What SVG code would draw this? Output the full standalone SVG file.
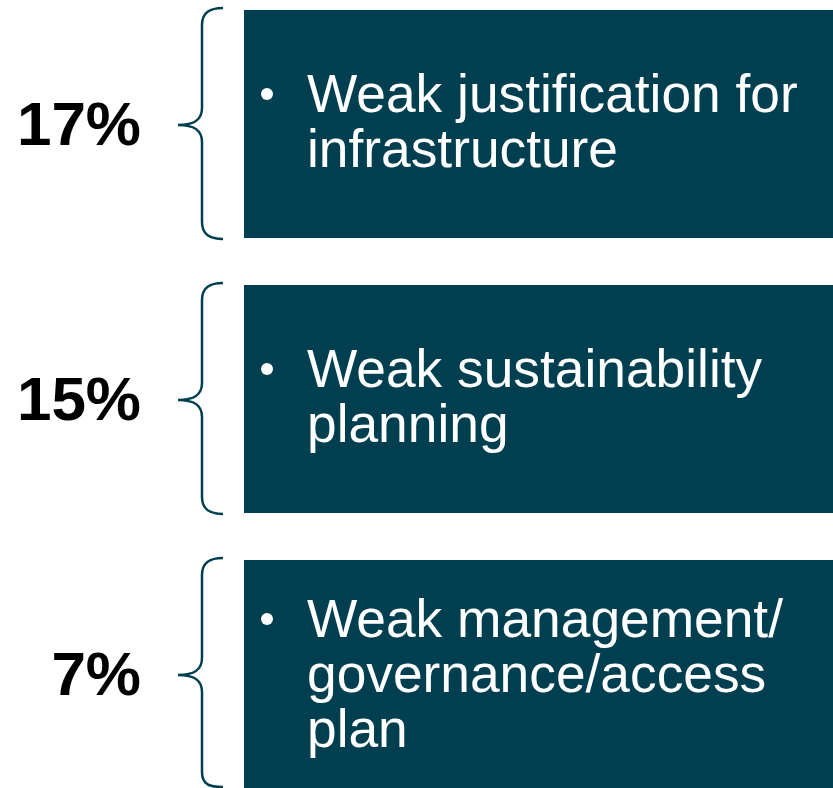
<svg xmlns="http://www.w3.org/2000/svg" width="833" height="788" viewBox="0 0 833 788">
<style>
.box{fill:#003F50}
.brace{fill:none;stroke:#003F50;stroke-width:2.5}
.pct{font-family:"Liberation Sans",Arial,sans-serif;font-weight:bold;font-size:62px;fill:#000;text-anchor:end}
.lbl{font-family:"Liberation Sans",Arial,sans-serif;font-size:53.3px;fill:#fff}
.dot{fill:#fff}
</style>
<rect width="833" height="788" fill="#fff"/>
<g id="connectors">
<path class="brace" d="M223,8 C210,8 202,12 202,25 L202,108 C202,120 194,125 178,125 C194,125 202,130 202,142 L202,222 C202,235 210,239 223,239"/>
<path class="brace" d="M223,283 C210,283 202,287 202,300 L202,383 C202,395 194,400 178,400 C194,400 202,405 202,417 L202,497 C202,510 210,514 223,514"/>
<path class="brace" d="M223,558 C210,558 202,562 202,575 L202,658 C202,670 194,675 178,675 C194,675 202,680 202,692 L202,772 C202,785 210,787 223,787"/>
</g>
<g id="pct1"><text class="pct" x="141" y="145">17%</text></g>
<g id="pct2"><text class="pct" x="141" y="420">15%</text></g>
<g id="pct3"><text class="pct" x="141" y="695">7%</text></g>
<g id="box1">
<rect class="box" x="244" y="10" width="589" height="228"/>
<circle class="dot" cx="267" cy="94" r="6"/>
<text class="lbl" x="307" y="112">Weak justification for</text>
<text class="lbl" x="307" y="167">infrastructure</text>
</g>
<g id="box2">
<rect class="box" x="244" y="285" width="589" height="228"/>
<circle class="dot" cx="267" cy="369" r="6"/>
<text class="lbl" x="307" y="387">Weak sustainability</text>
<text class="lbl" x="307" y="442">planning</text>
</g>
<g id="box3">
<rect class="box" x="244" y="560" width="589" height="228"/>
<circle class="dot" cx="267" cy="619" r="6"/>
<text class="lbl" x="307" y="637">Weak management/</text>
<text class="lbl" x="307" y="692">governance/access</text>
<text class="lbl" x="307" y="747">plan</text>
</g>
</svg>
